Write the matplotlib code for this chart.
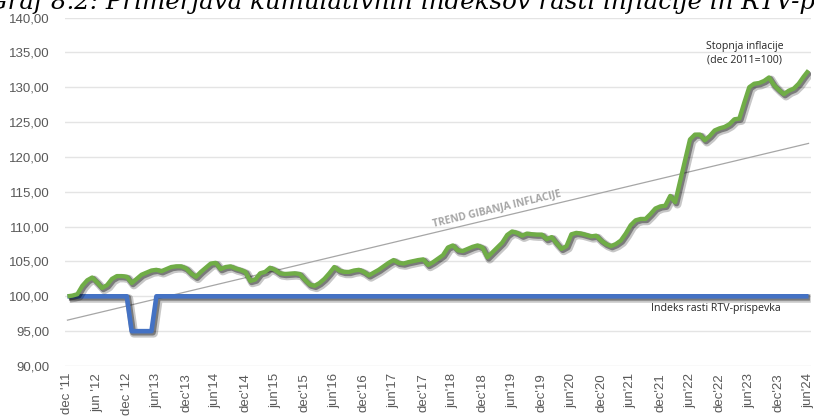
import matplotlib
matplotlib.use("Agg")
import matplotlib.pyplot as plt
import matplotlib.patheffects as pe
import numpy as np

# monthly index, dec 2011 = 100
inflacija = [
    100.0, 100.1, 100.3, 101.5, 102.3, 102.7, 102.0, 101.2, 101.6, 102.5, 102.9, 102.9,
    102.8, 101.9, 102.5, 103.1, 103.4, 103.7, 103.8, 103.6, 103.9, 104.2, 104.3, 104.3,
    104.0, 103.3, 102.8, 103.5, 104.1, 104.7, 104.8, 103.9, 104.2, 104.3, 104.0, 103.8,
    103.5, 102.2, 102.4, 103.3, 103.5, 104.1, 103.8, 103.3, 103.2, 103.25, 103.3, 103.2,
    102.4, 101.7, 101.5, 101.9, 102.5, 103.3, 104.2, 103.7, 103.5, 103.5, 103.7, 103.8,
    103.5, 103.0, 103.4, 103.8, 104.3, 104.8, 105.2, 104.8, 104.7, 104.9, 105.05, 105.2,
    105.3, 104.5, 104.9, 105.4, 105.9, 107.0, 107.3, 106.6, 106.5, 106.8, 107.1, 107.3,
    107.0, 105.6, 106.3, 107.0, 107.7, 108.8, 109.3, 109.1, 108.7, 109.0, 108.9, 108.85,
    108.85, 108.2, 108.5, 107.6, 106.8, 107.2, 108.9, 109.1, 109.0, 108.8, 108.6, 108.7,
    108.0, 107.5, 107.2, 107.5, 108.0, 109.0, 110.2, 110.9, 111.1, 111.1, 111.8, 112.6,
    112.9, 113.0, 114.4, 113.5, 116.5, 119.5, 122.5, 123.2, 123.2, 122.4, 123.0, 123.8,
    124.1, 124.3, 124.7, 125.4, 125.5, 127.8, 130.0, 130.5, 130.6, 130.9, 131.4, 130.3,
    129.6, 129.0, 129.5, 129.8, 130.5, 131.5, 132.4,
]
rtv = [100.0] * 13 + [95.0] * 5 + [100.0] * 133

tick_labels = ["dec '11", "jun '12", "dec '12", "jun'13", "dec'13", "jun'14", "dec'14",
               "jun'15", "dec'15", "jun'16", "dec'16", "jun'17", "dec'17", "jun'18",
               "dec'18", "jun'19", "dec'19", "jun'20", "dec'20", "jun'21", "dec'21",
               "jun'22", "dec'22", "jun'23", "dec'23", "jun'24"]
y_ticks = [90, 95, 100, 105, 110, 115, 120, 125, 130, 135, 140]

months = np.arange(len(inflacija))
coef = np.polyfit(months, inflacija, 1)
trend = np.polyval(coef, months)

fig = plt.figure(figsize=(8.14, 4.18), dpi=100)
ax = fig.add_axes([65 / 814, 1 - 366 / 418, (811 - 65) / 814, (366 - 17.5) / 418])

def shadow(lw):
    return [pe.SimpleLineShadow(offset=(1.6, -1.6), shadow_color="black", alpha=0.22, linewidth=lw + 2.8),
            pe.SimpleLineShadow(offset=(1.0, -1.0), shadow_color="black", alpha=0.38, linewidth=lw + 1.0),
            pe.Normal()]

ax.plot(months, trend, color="#a6a6a6", lw=0.9, zorder=2)
ax.plot(months, rtv, color="#4472c4", lw=3.3, zorder=3, solid_capstyle="butt",
        path_effects=shadow(3.3))
ax.plot(months, inflacija, color="#70ad47", lw=3.1, zorder=4, solid_capstyle="butt",
        path_effects=shadow(3.1))

ax.set_xlim(-0.5, len(months) - 0.5)
ax.set_ylim(90, 140)
ax.set_yticks(y_ticks)
ax.set_yticklabels([f"{v:.2f}".replace(".", ",") for v in y_ticks])
ax.set_xticks(months[::6])
ax.set_xticklabels(tick_labels, rotation=90)
ax.tick_params(axis="y", length=0, pad=11, labelsize=9.5, labelcolor="#595959")
ax.tick_params(axis="x", length=0, pad=5, labelsize=9.5, labelcolor="#595959")
for lab in ax.get_yticklabels() + ax.get_xticklabels():
    lab.set_fontfamily("Liberation Sans")
ax.grid(axis="y", color="#e4e4e4", lw=1)
ax.set_axisbelow(True)
for s in ax.spines.values():
    s.set_visible(False)

ax.text(137, 134.9, "Stopnja inflacije\n(dec 2011=100)", ha="center", va="center",
        fontsize=7.6, family="Open Sans", color="#262626", linespacing=1.3)
ax.text(131.3, 98.3, "Indeks rasti RTV-prispevka", ha="center", va="center",
        fontsize=7.7, family="Open Sans", color="#262626")

# label along the trend line
p0 = ax.transData.transform((0, trend[0]))
p1 = ax.transData.transform((150, trend[-1]))
angle = np.degrees(np.arctan2(p1[1] - p0[1], p1[0] - p0[0]))
ax.text(87, np.polyval(coef, 87) + 1.2, "TREND GIBANJA INFLACIJE", ha="center", va="center",
        rotation=angle, rotation_mode="anchor", fontsize=7.4, family="Open Sans",
        fontweight="bold", color="#a6a6a6")

# caption at the top, cut off by the figure edge as in the source image
renderer = fig.canvas.get_renderer()
title = "Graf 8.2: Primerjava kumulativnih indeksov rasti inflacije in RTV-prispevka"
probe = fig.text(0, 0, "Graf 8.2: Primerjava kumulativnih indeksov rasti inflacije in RTV-p",
                 fontsize=10, family="DejaVu Serif", style="italic")
w10 = probe.get_window_extent(renderer).width
probe.remove()
fs = 10 * 826 / w10
fig.text(-12 / 814, 1 - 9.5 / 418, title, va="baseline", fontsize=fs,
         family="DejaVu Serif", style="italic", color="black")

fig.savefig("out.png", dpi=100)
